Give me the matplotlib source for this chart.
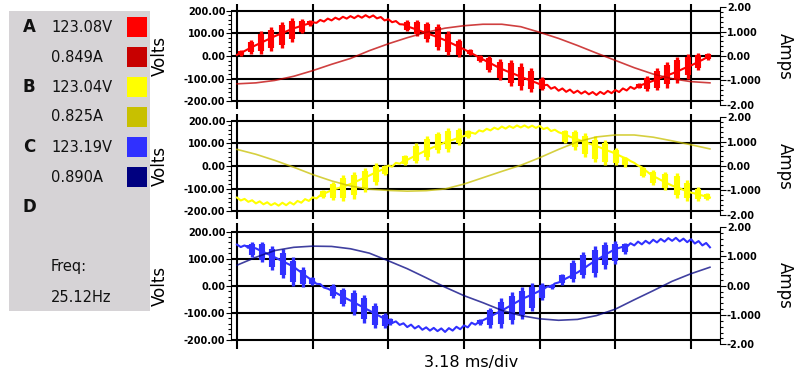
import numpy as np
import matplotlib
matplotlib.use('Agg')
import matplotlib.pyplot as plt
import matplotlib.patches as patches

###############################################################################
# Datos leidos del osciloscopio (tiempo en divisiones, 3.18 ms/div)

FINE_STEP = 0.05     # paso de la traza de voltaje
COARSE_STEP = 0.25   # paso de la traza de corriente

# Fase A
volts_a = [5, 14, 22, 31, 40, 48, 56, 64, 72, 80, 88, 95, 102, 109, 116,
           123, 128, 134, 139, 144, 150, 147, 160, 153, 166, 158, 170, 162, 174, 166,
           177, 168, 179, 170, 181, 171, 180, 167, 173, 158, 163, 150, 155, 141, 140,
           131, 126, 120, 114, 108, 103, 96, 90, 83, 77, 70, 62, 54, 46, 38,
           30, 21, 12, 3, -6, -15, -24, -32, -41, -50, -58, -65, -72, -78, -85,
           -92, -99, -105, -112, -118, -125, -130, -128, -145, -138,
           -154, -144, -159, -149, -164, -154, -167, -157, -170, -160,
           -173, -159, -169, -155, -165, -151, -160, -144, -153, -137,
           -146, -134, -128, -122, -116, -110, -104, -97, -91, -84,
           -78, -71, -64, -56, -49, -42, -34, -25, -17, -8, 0]
amps_a = [-1.14, -1.10, -1.00, -0.83, -0.60, -0.34, -0.10, 0.22, 0.50, 0.75,
          0.97, 1.14, 1.24, 1.30, 1.30, 1.20, 0.97, 0.72, 0.43, 0.12,
          -0.18, -0.48, -0.74, -0.93, -1.05, -1.10]
spike_t_a = [0.05, 0.19, 0.32, 0.45, 0.59, 0.73, 0.86, 0.96,
             2.25, 2.38, 2.51, 2.66, 2.79, 2.93, 3.08, 3.21, 3.33, 3.48, 3.62, 3.75, 3.89, 4.03,
             5.31, 5.42, 5.55, 5.68, 5.81, 5.96, 6.09, 6.22]
spike_hi_a = [25, 70, 110, 130, 150, 168, 165, 160,
              158, 161, 153, 143, 109, 75, 30, 4, 0, -15, -18, -33, -55, -95,
              -122, -89, -55, -25, -3, 9, 12, 12]
spike_lo_a = [0, 10, 10, 20, 35, 60, 100, 135,
              109, 89, 64, 27, 4, -6, 4, -25, -70, -107, -134, -149, -160, -152,
              -144, -155, -152, -140, -122, -100, -63, -18]

# Fase B
volts_b = [-140, -153, -146, -159, -152, -166, -157, -170, -161, -174,
           -165, -176, -163, -174, -161, -171, -155, -163, -147, -155,
           -139, -144, -130, -123, -115, -108, -102, -97, -91, -86,
           -80, -72, -65, -57, -50, -42, -34, -26, -19, -11,
           2, -3, 14, 10, 21, 27, 36, 44, 53, 61,
           70, 77, 84, 91, 98, 105, 111, 116, 122, 127,
           133, 138, 148, 143, 158, 153, 165, 158, 170, 163,
           175, 166, 177, 169, 180, 171, 180, 170, 179, 169,
           178, 164, 170, 155, 161, 150, 144, 138, 130, 124,
           118, 112, 106, 100, 94, 88, 82, 75, 68, 62,
           55, 47, 39, 33, 22, 14, 2, -6, -20, -33,
           -45, -53, -62, -70, -79, -87, -93, -99, -106, -112,
           -118, -122, -127, -131, -136, -140]
amps_b = [0.68, 0.48, 0.23, -0.05, -0.35, -0.61, -0.82, -0.95, -1.00, -1.03,
          -1.01, -0.94, -0.74, -0.48, -0.22, 0.03, 0.34, 0.68, 0.99, 1.19,
          1.27, 1.27, 1.18, 1.03, 0.87, 0.70]
spike_t_b = [1.14, 1.27, 1.40, 1.55, 1.69, 1.84, 1.96,
             2.22, 2.37, 2.51, 2.66, 2.79, 2.93, 3.05,
             4.33, 4.47, 4.60, 4.73, 4.86, 5.01, 5.13,
             5.37, 5.50, 5.66, 5.81, 5.95, 6.09, 6.21]
spike_hi_b = [-107, -70, -40, -25, -10, 12, 4,
              49, 101, 131, 153, 168, 168, 161,
              161, 161, 146, 131, 116, 79, 42,
              -3, -18, -25, -33, -63, -92, -122]
spike_lo_b = [-140, -152, -155, -145, -115, -85, -40,
              4, 12, 27, 57, 64, 94, 124,
              101, 72, 42, 19, 4, 4, -3,
              -48, -85, -107, -140, -155, -155, -149]

# Fase C
volts_c = [152, 143, 149, 141, 141, 138, 131, 125, 118, 112,
           105, 98, 91, 84, 77, 70, 59, 49, 38, 28,
           20, 7, 6, -7, -11, -18, -25, -33, -40, -48,
           -55, -62, -70, -77, -85, -92, -100, -107, -115, -122,
           -130, -138, -132, -145, -139, -153, -144, -158, -149, -163,
           -154, -166, -156, -168, -158, -171, -157, -166, -152, -161,
           -147, -154, -137, -144, -133, -128, -121, -114, -106, -99,
           -92, -84, -76, -68, -60, -52, -45, -39, -32, -26,
           -19, -13, -3, -4, 8, 12, 19, 27, 34, 42,
           49, 58, 67, 77, 86, 95, 103, 112, 120, 128,
           136, 140, 144, 143, 157, 149, 163, 153, 166, 156,
           170, 160, 173, 163, 176, 166, 177, 164, 174, 161,
           172, 156, 165, 149, 158, 142]
amps_c = [0.70, 0.97, 1.20, 1.31, 1.35, 1.34, 1.26, 1.11, 0.85, 0.58,
          0.27, -0.05, -0.34, -0.58, -0.84, -1.02, -1.13, -1.18, -1.15, -1.02,
          -0.80, -0.48, -0.17, 0.15, 0.41, 0.63]
spike_t_c = [0.15, 0.20, 0.33, 0.46, 0.61, 0.74, 0.87, 0.99,
             1.27, 1.40, 1.55, 1.68, 1.82, 1.96, 2.02,
             3.21, 3.34, 3.49, 3.63, 3.77, 3.90, 4.03, 4.16,
             4.30, 4.44, 4.57, 4.73, 4.86, 5.00, 5.13]
spike_hi_c = [152, 160, 163, 148, 136, 106, 69, 33,
              5, -9, -16, -34, -64, -100, -120,
              -125, -82, -46, -22, -4, 9, 9, 5,
              45, 94, 124, 148, 163, 166, 158]
spike_lo_c = [140, 106, 87, 57, 27, 0, -4, 3,
              -46, -76, -107, -137, -155, -155, -145,
              -146, -155, -155, -143, -125, -95, -52, -12,
              3, 15, 27, 33, 63, 82, 118]

# Panel de lecturas
phase_names = ['A', 'B', 'C', 'D']
readings = ['123.08V', '0.849A', '123.04V', '0.825A', '123.19V', '0.890A']
freq_text = ['Freq:', '25.12Hz']
volt_ticks = [-200, -100, 0, 100, 200]
amp_ticks = [-2, -1, 0, 1, 2]
amp_tick_labels = ['-2.00', '-1.000', '0.00', '1.000', '2.00']

###############################################################################

W, H = 800, 374
fig = plt.figure(figsize=(W / 100, H / 100), dpi=100)


def fx(x):
    return x / W


def fy(y):
    return 1 - y / H


def px_rect(x0, y0, x1, y1):
    return [fx(x0), fy(y1), (x1 - x0) / W, (y1 - y0) / H]


# Recuadro gris con las lecturas
fig.patches.append(patches.Rectangle((fx(9), fy(311)), 141 / W, 300 / H,
                                     transform=fig.transFigure,
                                     facecolor='#d6d3d6', edgecolor='none'))

swatch_colors = ['#ff0000', '#c80000', '#ffff00', '#c8c000', '#3030ff', '#000080']
for i, txt in enumerate(readings):
    yc = 27 + 30 * i
    fig.text(fx(51), fy(yc), txt, fontsize=10.5, va='center', ha='left',
             color='#111111')
    fig.patches.append(patches.Rectangle((fx(127), fy(yc + 10)), 20 / W, 20 / H,
                                         transform=fig.transFigure,
                                         facecolor=swatch_colors[i],
                                         edgecolor='none'))
for i, name in enumerate(phase_names):
    fig.text(fx(23), fy(27 + 60 * i), name, fontsize=12, fontweight='bold',
             va='center', ha='left', color='#111111')
fig.text(fx(51), fy(267), freq_text[0], fontsize=10.5, va='center', color='#111111')
fig.text(fx(51), fy(297), freq_text[1], fontsize=10.5, va='center', color='#111111')


def draw_phase(rect, volts, amps, sp_t, sp_hi, sp_lo, c_volt, c_amp):
    ax = fig.add_axes(rect)
    ax.set_axisbelow(True)
    t_fine = np.arange(len(volts)) * FINE_STEP
    t_coarse = np.arange(len(amps)) * COARSE_STEP

    # Rafagas de alta frecuencia: pico fino completo y nucleo ancho
    hi = np.array(sp_hi, dtype=float)
    lo = np.array(sp_lo, dtype=float)
    mid = (hi + lo) / 2
    half = (hi - lo) / 2
    ax.vlines(sp_t, lo, hi, color=c_volt, lw=2.4)
    ax.vlines(sp_t, mid - 0.75 * half, mid + 0.75 * half, color=c_volt, lw=4.4)
    ax.plot(t_fine, volts, color=c_volt, lw=1.5)

    ax.set_xlim(-0.079, 6.383)
    ax.set_ylim(-233, 233)
    ax.set_xticks(range(7))
    ax.set_yticks(volt_ticks)
    ax.set_yticklabels(['%.2f' % v for v in volt_ticks])
    ax.set_yticks(np.arange(-200, 201, 20), minor=True)
    ax.grid(True, which='major', color='black', lw=1.5)
    ax.tick_params(axis='x', length=0, labelbottom=False)
    ax.tick_params(axis='y', which='major', length=3.5, width=0.8, pad=0.5,
                   labelsize=7, direction='out')
    ax.tick_params(axis='y', which='minor', length=2, width=0.8, direction='out')
    for lab in ax.get_yticklabels():
        lab.set_fontweight('bold')
    for s in ['top', 'bottom', 'right']:
        ax.spines[s].set_visible(False)
    ax.spines['left'].set_bounds(-200, 200)
    ax.spines['left'].set_linewidth(0.8)

    # Corriente en el eje derecho
    ax2 = ax.twinx()
    ax2.plot(t_coarse, amps, color=c_amp, lw=1.2, alpha=0.75)
    ax2.set_ylim(-2.15, 2.15)
    ax2.set_yticks(amp_ticks)
    ax2.set_yticklabels(amp_tick_labels)
    ax2.set_yticks(np.arange(-2, 2.01, 0.2), minor=True)
    ax2.tick_params(axis='y', which='major', length=4.5, width=0.8, pad=0.5,
                    labelsize=7)
    ax2.tick_params(axis='y', which='minor', length=2.4, width=0.8)
    for lab in ax2.get_yticklabels():
        lab.set_fontweight('bold')
    for s in ['top', 'bottom', 'left']:
        ax2.spines[s].set_visible(False)
    ax2.spines['right'].set_bounds(-2, 2)
    ax2.spines['right'].set_linewidth(0.8)
    return ax


panels = [
    ((231, 3.5, 720, 108.5), volts_a, amps_a, spike_t_a, spike_hi_a, spike_lo_a,
     '#ff0000', '#c00000'),
    ((231, 113.5, 720, 218.5), volts_b, amps_b, spike_t_b, spike_hi_b, spike_lo_b,
     '#ffff00', '#c8c000'),
    ((231, 222.7, 720, 348.7), volts_c, amps_c, spike_t_c, spike_hi_c, spike_lo_c,
     '#3030ff', '#000080'),
]

for box, v, a, st, sh, sl, cv, ca in panels:
    draw_phase(px_rect(*box), v, a, st, sh, sl, cv, ca)
    yc = (box[1] + box[3]) / 2
    fig.text(fx(160), fy(yc), 'Volts', rotation=90, fontsize=12,
             ha='center', va='center')
    fig.text(fx(785), fy(yc), 'Amps', rotation=270, fontsize=12,
             ha='center', va='center')

fig.text(fx(471), fy(363), '3.18 ms/div', fontsize=11.5, ha='center', va='center')

fig.savefig('out.png', dpi=100)
